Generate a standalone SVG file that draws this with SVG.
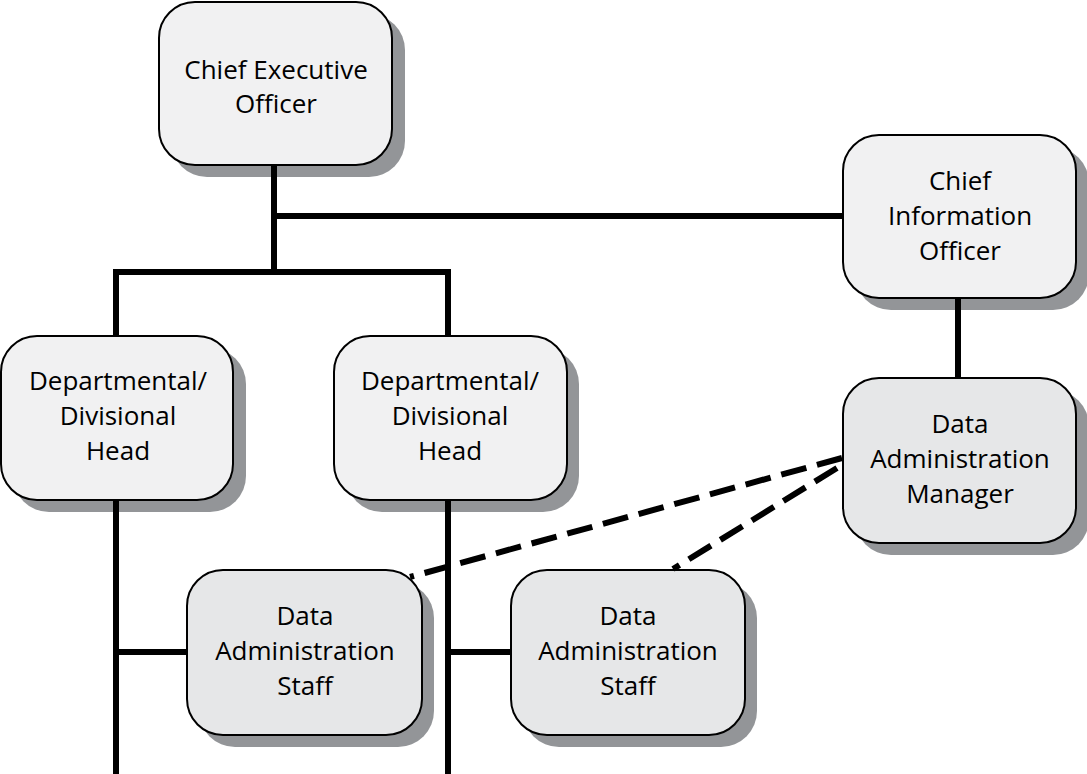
<svg xmlns="http://www.w3.org/2000/svg" width="1087" height="774" viewBox="0 0 1087 774">
<style>
.sh{fill:#939598;stroke:none}
.bx{stroke:#000;stroke-width:2}
.l1{fill:#f1f1f2}
.l2{fill:#e6e7e8}
.t{font-family:"Open Sans","Liberation Sans",sans-serif;font-size:26px;fill:#000;text-anchor:middle}
.ln{stroke:#000;stroke-width:6;fill:none}
.ds{stroke:#000;stroke-width:6;fill:none;stroke-dasharray:26 11}
</style>
<rect width="1087" height="774" fill="#fff"/>
<g id="ceo">
<rect class="sh" x="171" y="14" width="234" height="163" rx="36"/>
<rect class="bx l1" x="159" y="2" width="233" height="163" rx="36"/>
<text class="t" x="276" y="79">Chief Executive</text>
<text class="t" x="276" y="113">Officer</text>
</g>
<g id="cio">
<rect class="sh" x="855" y="147" width="234" height="163" rx="36"/>
<rect class="bx l1" x="843" y="135" width="233" height="163" rx="36"/>
<text class="t" x="960" y="190">Chief</text>
<text class="t" x="960" y="225">Information</text>
<text class="t" x="960" y="260">Officer</text>
</g>
<g id="dam">
<rect class="sh" x="855" y="390" width="234" height="165" rx="36"/>
<rect class="bx l2" x="843" y="378" width="233" height="165" rx="36"/>
<text class="t" x="960" y="433">Data</text>
<text class="t" x="960" y="468">Administration</text>
<text class="t" x="960" y="503">Manager</text>
</g>
<g id="dept1">
<rect class="sh" x="13" y="348" width="233" height="164" rx="36"/>
<rect class="bx l1" x="1" y="336" width="232" height="164" rx="36"/>
<text class="t" x="118" y="390">Departmental/</text>
<text class="t" x="118" y="425">Divisional</text>
<text class="t" x="118" y="460">Head</text>
</g>
<g id="dept2">
<rect class="sh" x="346" y="348" width="233" height="164" rx="36"/>
<rect class="bx l1" x="334" y="336" width="233" height="164" rx="36"/>
<text class="t" x="450" y="390">Departmental/</text>
<text class="t" x="450" y="425">Divisional</text>
<text class="t" x="450" y="460">Head</text>
</g>
<g id="das1">
<rect class="sh" x="199" y="582" width="235" height="165" rx="36"/>
<rect class="bx l2" x="187" y="570" width="235" height="165" rx="36"/>
<text class="t" x="305" y="625">Data</text>
<text class="t" x="305" y="660">Administration</text>
<text class="t" x="305" y="695">Staff</text>
</g>
<g id="das2">
<rect class="sh" x="523" y="582" width="234" height="165" rx="36"/>
<rect class="bx l2" x="511" y="570" width="234" height="165" rx="36"/>
<text class="t" x="628" y="625">Data</text>
<text class="t" x="628" y="660">Administration</text>
<text class="t" x="628" y="695">Staff</text>
</g>
<g id="connectors">
<path class="ln" d="M274 166V272M274 216H842M113 272H451M116 272V335M448 272V335M116 501V774M448 501V774M116 652H186M448 652H510M958 299V377"/>
<path class="ds" d="M842 458L410 577M837 468L673 569"/>
</g>
</svg>
